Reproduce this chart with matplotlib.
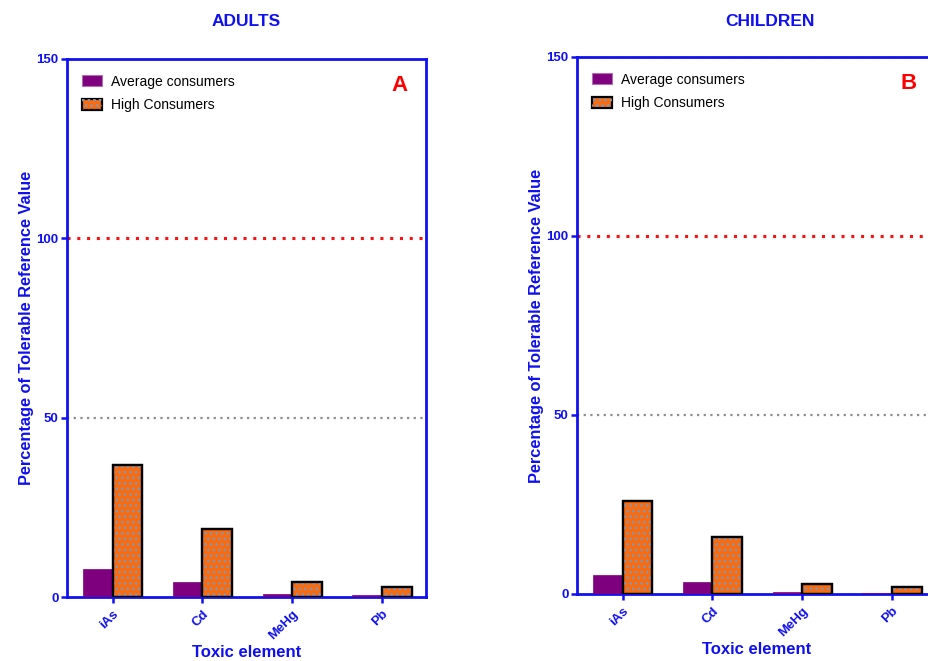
import matplotlib
matplotlib.use("Agg")
import matplotlib.pyplot as plt
import numpy as np

plt.rcParams['font.family'] = ['Liberation Sans', 'DejaVu Sans']
plt.rcParams['hatch.linewidth'] = 1.3

# percentage of tolerable reference value per toxic element
elements = ['iAs', 'Cd', 'MeHg', 'Pb']
adults_avg = [7.8, 4.1, 0.9, 0.5]
adults_high = [36.8, 18.9, 4.3, 2.8]
children_avg = [5.3, 3.3, 0.5, 0.2]
children_high = [26.0, 15.9, 2.9, 1.95]
yticks = [0, 50, 100, 150]

BLUE = '#1010F0'
PURPLE = '#7E007E'
ORANGE = '#FB6A0C'
DOTS = '#8A94A8'

fig = plt.figure(figsize=(9.29, 6.61), dpi=100)
ax_a = fig.add_axes([0.0721, 0.0968, 0.3864, 0.814])
ax_b = fig.add_axes([0.621, 0.1014, 0.3864, 0.8124])


def draw_panel(ax, avg, high, letter):
    x = np.arange(len(elements))
    w = 0.33
    ax.bar(x - w / 2, avg, w, color=PURPLE, edgecolor=PURPLE, linewidth=0.5, zorder=3)
    hb = ax.bar(x + w / 2, high, w, color=ORANGE, edgecolor='black', linewidth=1.6, zorder=3)
    hd = ax.bar(x + w / 2, high, w, color='none', edgecolor=DOTS, hatch='...',
                linewidth=0, zorder=4)
    # redraw the outline over the dots
    ax.bar(x + w / 2, high, w, color='none', edgecolor='black', linewidth=1.6, zorder=5)

    ax.axhline(100, color='#FF1010', linestyle=(0, (1, 2.2)), linewidth=2.2, zorder=2)
    ax.axhline(50, color='#8C8C8C', linestyle=(0, (1, 2)), linewidth=1.6, zorder=2)

    ax.set_xlim(-0.51, 3.49)
    ax.set_ylim(0, 150)
    ax.set_yticks(yticks)
    ax.set_xticks(x)
    ax.set_xticklabels(elements, rotation=45, ha='right', rotation_mode='anchor')
    for lab in ax.get_xticklabels() + ax.get_yticklabels():
        lab.set_color(BLUE)
        lab.set_fontweight('bold')
        lab.set_fontsize(9.5)
    ax.tick_params(axis='both', colors=BLUE, width=1.8, length=4, pad=2)
    ax.tick_params(axis='x', pad=4)
    for s in ax.spines.values():
        s.set_color(BLUE)
        s.set_linewidth(2)

    ax.set_ylabel('Percentage of Tolerable Reference Value', color=BLUE,
                  fontweight='bold', fontsize=11.8, labelpad=2)
    ax.set_xlabel('Toxic element', color=BLUE, fontweight='bold', fontsize=12, labelpad=2)

    avg_patch = plt.Rectangle((0, 0), 1, 1, facecolor=PURPLE, edgecolor='#B070B0', linewidth=0.8)
    ax.legend([avg_patch, (hb[0], hd[0])], ['Average consumers', 'High Consumers'],
              loc='upper left', frameon=False, fontsize=10,
              bbox_to_anchor=(0.006, 0.994), handlelength=1.45, handleheight=0.85,
              labelspacing=0.68, handletextpad=0.65, borderaxespad=0.5)
    ax.text(0.925, 0.95, letter, transform=ax.transAxes, color='#FF0000',
            fontsize=16, fontweight='bold', ha='center', va='center')


draw_panel(ax_a, adults_avg, adults_high, 'A')
draw_panel(ax_b, children_avg, children_high, 'B')

fig.text(246 / 929, 1 - 21 / 661, 'ADULTS', color=BLUE, fontsize=12.5,
         fontweight='bold', ha='center', va='center')
fig.text(770 / 929, 1 - 22 / 661, 'CHILDREN', color=BLUE, fontsize=12.5,
         fontweight='bold', ha='center', va='center')

fig.savefig('out.png', dpi=100)
